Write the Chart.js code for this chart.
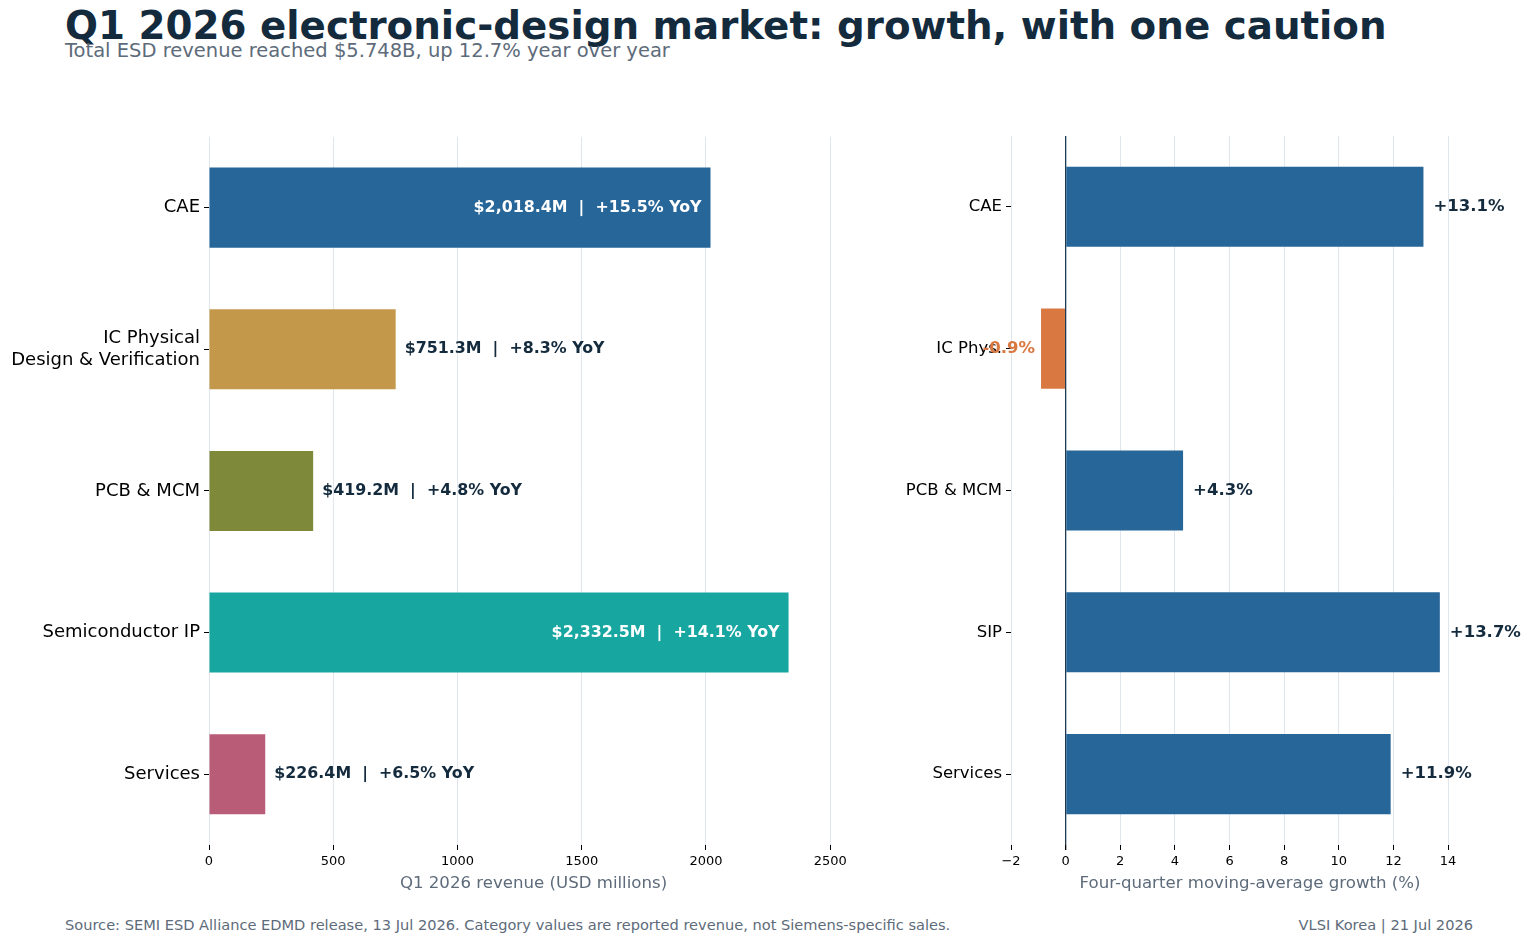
<!DOCTYPE html>
<html>
<head>
<meta charset="utf-8">
<script src="https://cdn.jsdelivr.net/npm/chart.js@4.4.1/dist/chart.umd.min.js"></script>
<style>
  body { margin: 0; background: #fff; width: 1531px; height: 944px; position: relative; overflow: hidden; font-family: "DejaVu Sans", sans-serif; }
  .txt { position: absolute; white-space: nowrap; line-height: 1; }
  #title { left: 65px; top: 7px; font-size: 38.8px; font-weight: bold; color: #142b3e; }
  #subtitle { left: 65px; top: 41px; font-size: 19.5px; color: #5d6b7a; }
  #source { left: 65px; top: 918px; font-size: 14.6px; color: #5d6b7a; }
  #credit { right: 58px; top: 918px; font-size: 14.6px; color: #5d6b7a; }
  #left-wrap { position: absolute; left: 0; top: 122px; width: 870px; height: 773px; }
  #right-wrap { position: absolute; left: 880px; top: 122px; width: 651px; height: 773px; }
</style>
</head>
<body>
<div class="txt" id="title">Q1 2026 electronic-design market: growth, with one caution</div>
<div class="txt" id="subtitle">Total ESD revenue reached $5.748B, up 12.7% year over year</div>
<div class="txt" id="source">Source: SEMI ESD Alliance EDMD release, 13 Jul 2026. Category values are reported revenue, not Siemens-specific sales.</div>
<div class="txt" id="credit">VLSI Korea | 21 Jul 2026</div>
<div id="left-wrap"><canvas id="rev"></canvas></div>
<div id="right-wrap"><canvas id="growth"></canvas></div>
<script>
// data
var revCategories = ["CAE", ["IC Physical", "Design & Verification"], "PCB & MCM", "Semiconductor IP", "Services"];
var revenue = [2018.4, 751.3, 419.2, 2332.5, 226.4];
var revYoY = [15.5, 8.3, 4.8, 14.1, 6.5];
var revColors = ["#276699", "#c4984a", "#7e8a3a", "#18a6a1", "#b85c78"];
var revTicks = [0, 500, 1000, 1500, 2000, 2500];

var growthCategories = ["CAE", "IC Phys.", "PCB & MCM", "SIP", "Services"];
var growth = [13.1, -0.9, 4.3, 13.7, 11.9];
var growthTicks = [-2, 0, 2, 4, 6, 8, 10, 12, 14];

var dark = "#142b3e";
var gray = "#5d6b7a";
var gridColor = "#dfe6ee";

Chart.defaults.font.family = "DejaVu Sans";
Chart.defaults.color = "#000";

function fmtMoney(v) {
  return "$" + v.toLocaleString("en-US", { minimumFractionDigits: 1, maximumFractionDigits: 1 }) + "M";
}

var barLabels = {
  id: "barLabels",
  afterDatasetsDraw(chart, args, opts) {
    var ctx = chart.ctx;
    var meta = chart.getDatasetMeta(0);
    ctx.save();
    ctx.font = "bold " + opts.size + "px DejaVu Sans";
    ctx.textBaseline = "middle";
    meta.data.forEach(function (bar, i) {
      var lab = opts.label(i);
      ctx.fillStyle = lab.color;
      ctx.textAlign = lab.align;
      var x = lab.align === "left" ? bar.x + lab.gap : bar.x - lab.gap;
      ctx.fillText(lab.text, x, bar.y);
    });
    ctx.restore();
  }
};

new Chart(document.getElementById("rev"), {
  type: "bar",
  data: {
    labels: revCategories,
    datasets: [{ data: revenue, backgroundColor: revColors, barPercentage: 0.565, categoryPercentage: 1 }]
  },
  plugins: [barLabels],
  options: {
    indexAxis: "y",
    responsive: true,
    maintainAspectRatio: false,
    animation: false,
    layout: { padding: { left: 0, right: 12, top: 0, bottom: 0 } },
    plugins: {
      legend: { display: false },
      tooltip: { enabled: false },
      barLabels: {
        size: 15.85,
        label: function (i) {
          var txt = fmtMoney(revenue[i]) + "  |  +" + revYoY[i].toFixed(1) + "% YoY";
          if (revenue[i] > 1500) return { text: txt, color: "#fff", align: "right", gap: 9 };
          return { text: txt, color: dark, align: "left", gap: 9 };
        }
      }
    },
    scales: {
      x: {
        min: 0,
        max: 2612,
        afterBuildTicks: function (s) { s.ticks = revTicks.map(function (v) { return { value: v }; }); },
        afterFit: function (s) { s.height = 50; },
        border: { display: false },
        grid: { color: gridColor, tickColor: "#000", tickLength: 5 },
        ticks: { font: { size: 13 }, padding: 4, color: "#000", callback: function (v) { return String(v); } },
        title: { display: true, text: "Q1 2026 revenue (USD millions)", color: gray, font: { size: 16.6 }, padding: { top: 2, bottom: 1 } }
      },
      y: {
        afterFit: function (s) { s.width = 209; },
        border: { display: false },
        grid: { drawOnChartArea: false, offset: false, tickColor: "#000", tickLength: 5 },
        ticks: { font: { size: 18 }, padding: 4, color: "#000" }
      }
    }
  }
});

new Chart(document.getElementById("growth"), {
  type: "bar",
  data: {
    labels: growthCategories,
    datasets: [{
      data: growth,
      backgroundColor: growth.map(function (v) { return v < 0 ? "#d97841" : "#276699"; }),
      barPercentage: 0.565,
      categoryPercentage: 1
    }]
  },
  plugins: [barLabels],
  options: {
    indexAxis: "y",
    responsive: true,
    maintainAspectRatio: false,
    animation: false,
    layout: { padding: { left: 0, right: 42, top: 0, bottom: 0 } },
    plugins: {
      legend: { display: false },
      tooltip: { enabled: false },
      barLabels: {
        size: 16.5,
        label: function (i) {
          var v = growth[i];
          if (v < 0) return { text: v.toFixed(1) + "%", color: "#d97841", align: "right", gap: 6 };
          return { text: "+" + v.toFixed(1) + "%", color: dark, align: "left", gap: 10 };
        }
      }
    },
    scales: {
      x: {
        min: -2,
        max: 15.5,
        afterBuildTicks: function (s) { s.ticks = growthTicks.map(function (v) { return { value: v }; }); },
        afterFit: function (s) { s.height = 50; },
        border: { display: false },
        grid: {
          color: function (c) { return c.tick && c.tick.value === 0 ? "#1d3a52" : gridColor; },
          lineWidth: function (c) { return c.tick && c.tick.value === 0 ? 1.3 : 1; },
          tickColor: "#000",
          tickLength: 5
        },
        ticks: {
          font: { size: 13 }, padding: 4, color: "#000",
          callback: function (v) { return v < 0 ? "\u2212" + Math.abs(v) : String(v); }
        },
        title: { display: true, text: "Four-quarter moving-average growth (%)", color: gray, font: { size: 16.6 }, padding: { top: 2, bottom: 1 } }
      },
      y: {
        afterFit: function (s) { s.width = 131; },
        border: { display: false },
        grid: { drawOnChartArea: false, offset: false, tickColor: "#000", tickLength: 5 },
        ticks: { font: { size: 16.5 }, padding: 4, color: "#000" }
      }
    }
  }
});
</script>
</body>
</html>
